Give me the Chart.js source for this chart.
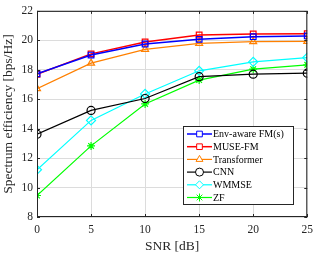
<!DOCTYPE html>
<html>
<head>
<meta charset="utf-8">
<script src="https://cdn.jsdelivr.net/npm/chart.js@4"></script>
<style>
  html, body { margin: 0; padding: 0; background: #fff; }
  #wrap { width: 319px; height: 255px; }
</style>
</head>
<body>
<div id="wrap"><canvas id="snr-chart"></canvas></div>
<script>
// values
var snr = [0, 5, 10, 15, 20, 25];
var envAware = [17.73, 19.0, 19.75, 20.07, 20.25, 20.3];
var museFm = [17.7, 19.08, 19.89, 20.36, 20.43, 20.45];
var transformer = [16.72, 18.45, 19.39, 19.8, 19.91, 19.93];
var cnn = [13.62, 15.24, 16.05, 17.53, 17.7, 17.77];
var wmmse = [11.21, 14.56, 16.36, 17.93, 18.54, 18.83];
var zf = [9.46, 12.83, 15.68, 17.3, 18.04, 18.34];
var yTicks = [8, 10, 12, 14, 16, 18, 20, 22];

var serif = "'Liberation Serif', 'Times New Roman', serif";

function pts(ys) {
  return snr.map(function(x, i) { return { x: x, y: ys[i] }; });
}

function series(label, ys, color, style, width, fill) {
  return {
    label: label,
    data: pts(ys),
    borderColor: color,
    borderWidth: width,
    pointStyle: style,
    pointRadius: style === "rectRot" ? 4.5 : 4,
    pointBorderColor: color,
    pointBackgroundColor: fill ? color : "rgba(0,0,0,0)",
    pointBorderWidth: 1.2,
    tension: 0
  };
}

// box, inward ticks and inset legend, MATLAB-like
var boxPlugin = {
  id: "box",
  afterDatasetsDraw: function(chart) {
    var c = chart.ctx, a = chart.chartArea;
    var xs = chart.scales.x, ys = chart.scales.y;
    c.save();
    c.strokeStyle = "#262626";
    c.lineWidth = 1;
    c.strokeRect(a.left + 0.5, a.top + 0.5, a.right - a.left - 1, a.bottom - a.top - 1);
    c.beginPath();
    snr.forEach(function(v) {
      var px = Math.round(xs.getPixelForValue(v)) + 0.5;
      c.moveTo(px, a.bottom); c.lineTo(px, a.bottom - 3);
      c.moveTo(px, a.top); c.lineTo(px, a.top + 3);
    });
    yTicks.forEach(function(v) {
      var py = Math.round(ys.getPixelForValue(v)) + 0.5;
      c.moveTo(a.left, py); c.lineTo(a.left + 3, py);
      c.moveTo(a.right, py); c.lineTo(a.right - 3, py);
    });
    c.stroke();

    // legend
    var lx = 183, ly = 126, lw = 110, lh = 78, row = 12.7;
    c.fillStyle = "#fff";
    c.fillRect(lx, ly, lw, lh);
    c.strokeStyle = "#262626";
    c.strokeRect(lx + 0.5, ly + 0.5, lw, lh);
    c.font = "10px " + serif;
    c.textBaseline = "middle";
    chart.data.datasets.forEach(function(ds, i) {
      var y = ly + 8 + i * row;
      c.strokeStyle = ds.borderColor;
      c.lineWidth = ds.borderWidth;
      c.beginPath();
      c.moveTo(lx + 4, y); c.lineTo(lx + 29, y);
      c.stroke();
      c.fillStyle = ds.pointStyle === "star" ? ds.borderColor : "#fff";
      c.lineWidth = 1;
      Chart.helpers.drawPoint(c, {
        pointStyle: ds.pointStyle,
        radius: 4,
        borderWidth: 1
      }, lx + 16.5, y);
      c.fillStyle = "#000";
      c.fillText(ds.label, lx + 30, y + 0.5);
    });
    c.restore();
  }
};

var ctx = document.getElementById("snr-chart").getContext("2d");
var chart = new Chart(ctx, {
  type: "line",
  data: {
    datasets: [
      series("Env-aware FM(s)", envAware, "#0000ff", "rect", 1.5, false),
      series("MUSE-FM", museFm, "#ff0000", "rect", 1.5, false),
      series("Transformer", transformer, "#ff8000", "triangle", 1.2, false),
      series("CNN", cnn, "#000000", "circle", 1.2, false),
      series("WMMSE", wmmse, "#00ffff", "rectRot", 1.2, false),
      series("ZF", zf, "#00ff00", "star", 1.2, true)
    ]
  },
  options: {
    responsive: true,
    maintainAspectRatio: false,
    animation: false,
    layout: { padding: { top: 9, right: 10, left: 0, bottom: 0 } },
    plugins: {
      legend: { display: false },
      tooltip: { enabled: false }
    },
    scales: {
      x: {
        type: "linear",
        min: 0, max: 25,
        afterFit: function(s) { s.height = 38; },
        afterBuildTicks: function(s) { s.ticks = snr.map(function(v) { return { value: v }; }); },
        grid: { color: "#dcdcdc", drawTicks: false },
        border: { display: false },
        ticks: { color: "#262626", padding: 6, font: { family: serif, size: 11.5 } },
        title: { display: true, text: "SNR [dB]", color: "#262626", padding: { top: 1, bottom: 0 }, font: { family: serif, size: 13.5 } }
      },
      y: {
        min: 8, max: 22,
        afterFit: function(s) { s.width = 37; },
        afterBuildTicks: function(s) { s.ticks = yTicks.map(function(v) { return { value: v }; }); },
        grid: { color: "#dcdcdc", drawTicks: false },
        border: { display: false },
        ticks: { color: "#262626", padding: 4, font: { family: serif, size: 11.5 } },
        title: { display: true, text: "Spectrum efficiency [bps/Hz]", color: "#262626", padding: { top: 0, bottom: 2 }, font: { family: serif, size: 13.5 } }
      }
    }
  },
  plugins: [boxPlugin]
});
</script>
</body>
</html>
